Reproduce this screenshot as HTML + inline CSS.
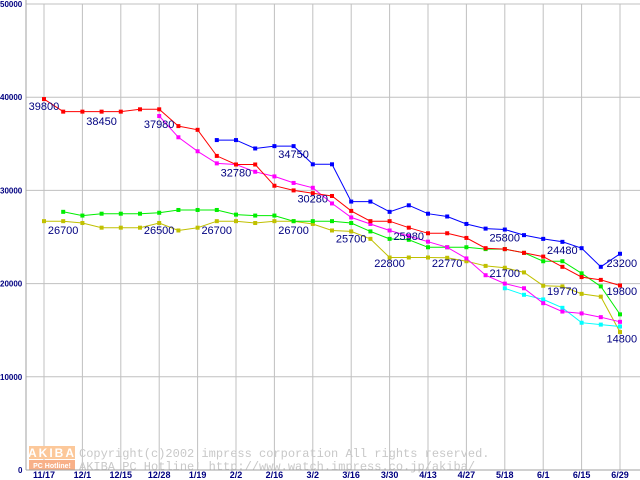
<!DOCTYPE html>
<html><head><meta charset="utf-8"><style>
html,body{margin:0;padding:0;background:#fff;}
svg{display:block;}
</style></head><body>
<svg id="chart" width="640" height="480" viewBox="0 0 640 480" xmlns="http://www.w3.org/2000/svg">
<rect x="0" y="0" width="640" height="480" fill="#fff"/>
<g id="grid"></g>
<g id="watermark">
  <rect x="29" y="446" width="46" height="13" fill="#fcc89a"/>
  <text x="52" y="457" font-family="Liberation Sans, sans-serif" font-size="12" font-weight="bold" fill="#fff" text-anchor="middle" letter-spacing="2">AKIBA</text>
  <rect x="29" y="460" width="46" height="10" fill="#f8b088"/>
  <text x="52" y="468" font-family="Liberation Sans, sans-serif" font-size="7" font-weight="bold" fill="#fff" text-anchor="middle">PC Hotline!</text>
  <text x="79" y="457" font-family="Liberation Mono, monospace" font-size="12" fill="#c8c8c8">Copyright(c)2002 impress corporation All rights reserved.</text>
  <text x="79" y="470" font-family="Liberation Mono, monospace" font-size="12" fill="#c8c8c8">AKIBA PC Hotline!  http://www.watch.impress.co.jp/akiba/</text>
</g>
<g id="series"></g>
<g id="labels"></g>
<g id="axes"></g>
</svg>
<script>
const xTickLabels = ["11/17","12/1","12/15","12/28","1/19","2/2","2/16","3/2","3/16","3/30","4/13","4/27","5/18","6/1","6/15","6/29"];
const yTicks = [0,10000,20000,30000,40000,50000];
const redStart = 0;
const redValues = [39800,38450,38450,38450,38450,38700,38700,36900,36500,33700,32780,32780,30500,30000,29700,29400,27800,26700,26700,26000,25400,25400,24900,23800,23700,23300,22900,21800,20700,20400,19800];
const magentaStart = 6;
const magentaValues = [37980,35700,34200,32900,32780,32000,31500,30800,30280,28600,27100,26400,25700,25100,24500,23900,22700,20900,20000,19500,17900,17000,16800,16400,15900];
const blueStart = 9;
const blueValues = [35400,35400,34500,34750,34750,32800,32800,28800,28800,27700,28400,27500,27200,26400,25900,25800,25200,24800,24480,23800,21800,23200];
const greenStart = 1;
const greenValues = [27700,27300,27500,27500,27500,27600,27900,27900,27900,27400,27300,27300,26700,26700,26700,26500,25600,24800,24700,23900,23900,23900,23700,23700,23300,22400,22400,21100,19700,16700];
const oliveStart = 0;
const oliveValues = [26700,26700,26500,26000,26000,26000,26500,25700,26000,26700,26700,26500,26700,26700,26400,25700,25600,24800,22800,22800,22800,22770,22400,21900,21700,21200,19770,19700,18900,18600,14800];
const cyanStart = 24;
const cyanValues = [19500,18800,18300,17400,15800,15600,15400];
const labelTexts = ["39800","38450","37980","32780","34750","30280","26700","26500","26700","26700","25700","25980","22800","22770","25800","21700","24480","19770","23200","19800","14800"];
const labelWeeks = [-0.8,2.2,5.2,9.2,12.2,13.2,0.2,5.2,8.2,12.2,15.2,18.2,17.2,20.2,23.2,23.2,26.2,26.2,29.3,29.3,29.3];
const labelValues = [38600,37000,36700,31500,33500,28700,25300,25300,25300,25300,24400,24700,21800,21800,24500,20700,23200,18800,21800,18800,13700];

const NS = "http://www.w3.org/2000/svg";
const X0 = 44, XSTEP = 19.2, AX = 26, Y0 = 470, YSCALE = 0.00932;
function xPos(k){ return X0 + k*XSTEP; }
function yPos(v){ return Y0 - v*YSCALE; }
function mk(tag, attrs, parent){
  const el = document.createElementNS(NS, tag);
  for (const k in attrs) el.setAttribute(k, attrs[k]);
  parent.appendChild(el);
  return el;
}
const grid = document.getElementById('grid');
const axes = document.getElementById('axes');
for (let i=0;i<xTickLabels.length;i++){
  const x = xPos(i*2);
  const l = mk('line',{x1:x,y1:4,x2:x,y2:Y0,stroke:'#c0c0c0','stroke-width':1},grid);
  
  
  const t = mk('text',{x:x,y:478,'text-anchor':'middle','font-family':'Liberation Sans, sans-serif','font-size':9,'font-weight':'bold',fill:'#000080'},axes);
  t.textContent = xTickLabels[i];
  
  
}
for (const v of yTicks){
  const y = yPos(v);
  if (v>0){
    const l = mk('line',{x1:AX,y1:y,x2:640,y2:y,stroke:'#c0c0c0','stroke-width':1},grid);
    
    
  }
  const t = mk('text',{x:0,y:y+3,'font-family':'Liberation Sans, sans-serif','font-size':8,'font-weight':'bold',fill:'#000080'},axes);
  t.textContent = v===0 ? '0' : String(v);
  if (v===0) t.setAttribute('x',18);
  
  
}
const ya = mk('line',{x1:AX,y1:0,x2:AX,y2:Y0,stroke:'#a0a0a0','stroke-width':1},axes);


const xa = mk('line',{x1:AX,y1:Y0,x2:640,y2:Y0,stroke:'#a0a0a0','stroke-width':1},axes);



const seriesG = document.getElementById('series');
function drawSeries(name, start, values, color){
  const g = mk('g',{},seriesG);
  
  
  const pts = values.map((v,i)=>xPos(start+i).toFixed(1)+','+yPos(v).toFixed(1)).join(' ');
  const pl = mk('polyline',{points:pts,fill:'none',stroke:color,'stroke-width':1},g);
  
  
  values.forEach((v,i)=>{
    const r = mk('rect',{x:xPos(start+i)-2,y:yPos(v)-2,width:4,height:4,fill:color},g);
    
    
  });
}
drawSeries('olive', oliveStart, oliveValues, '#c0c000');
drawSeries('green', greenStart, greenValues, '#00ee00');
drawSeries('cyan', cyanStart, cyanValues, '#00ffff');
drawSeries('magenta', magentaStart, magentaValues, '#ff00ff');
drawSeries('red', redStart, redValues, '#ff0000');
drawSeries('blue', blueStart, blueValues, '#0000ff');

const labelsG = document.getElementById('labels');
for (let i=0;i<labelTexts.length;i++){
  const t = mk('text',{x:xPos(labelWeeks[i]),y:yPos(labelValues[i]),'font-family':'Liberation Sans, sans-serif','font-size':11,fill:'#000080'},labelsG);
  t.textContent = labelTexts[i];
  
  
}
</script>
</body></html>
